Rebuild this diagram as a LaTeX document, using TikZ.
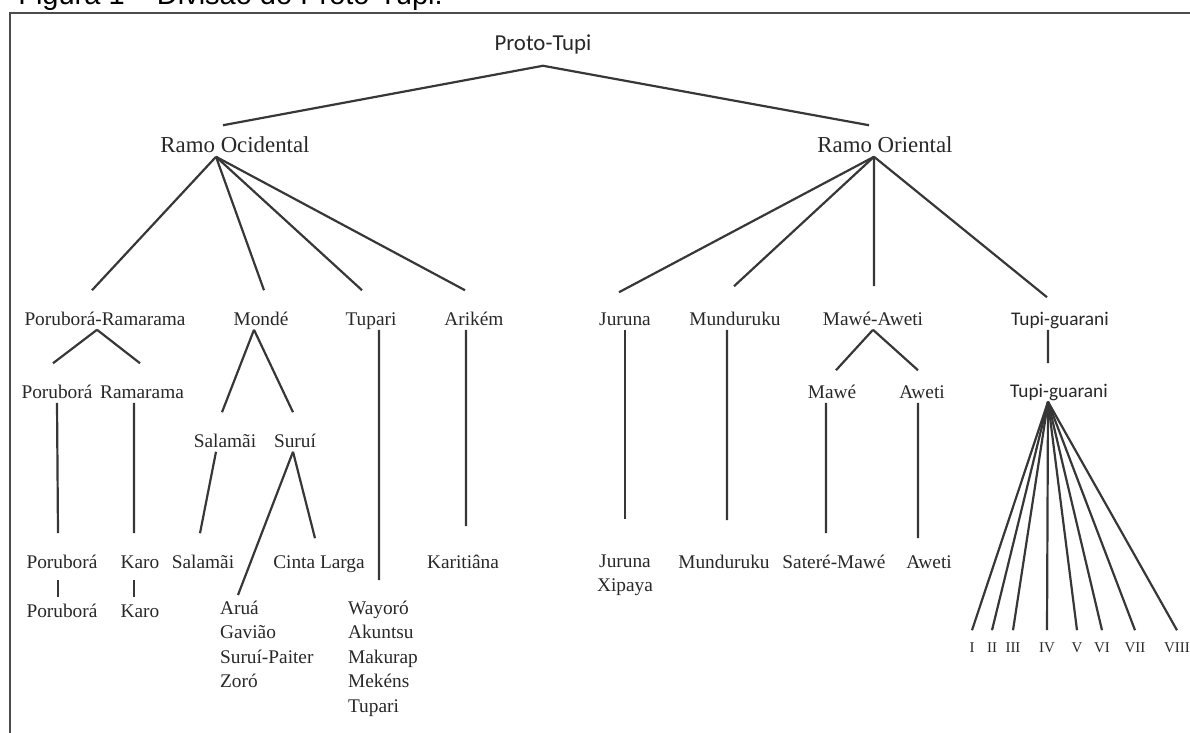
\documentclass[tikz,border=0pt]{standalone}
\usepackage{fontspec}
\setmainfont{Liberation Serif}
\newfontfamily\calfont{Carlito}
\newfontfamily\capfont{Liberation Sans}
\usetikzlibrary{positioning}
\definecolor{ink}{RGB}{40,40,40}
\definecolor{wire}{RGB}{55,55,55}

\begin{document}
\begin{tikzpicture}[x=0.02cm,y=-0.02cm,
    lang/.style={font=\fontsize{11}{13.9}\selectfont,text=ink,inner sep=1pt,text height=1.6ex,text depth=.3ex},
    branch/.style={lang,font=\fontsize{13}{15}\selectfont},
    list/.style={font=\fontsize{11}{13.9}\selectfont,text=ink,inner sep=1pt,align=left},
    num/.style={lang,font=\fontsize{8.5}{9}\selectfont},
    link/.style={draw=wire,line width=1.25pt}]
  \useasboundingbox (0,0) rectangle (1190,733);
  \draw[draw=black!70,line width=1.2pt] (10,745) -- (10,13) -- (1200,13);
  \node[anchor=base west,inner sep=0,font=\capfont\fontsize{16.5}{18}\selectfont] (cap) at (18,5) {Figura 1 – Divisão do Proto-Tupi.};

  \node[lang,font=\calfont\fontsize{13}{15}\selectfont] (proto) at (543,45) {Proto-Tupi};
  \node[branch] (ocid) at (235,147) {Ramo Ocidental};
  \node[branch] (orie) at (885,147) {Ramo Oriental};

  \foreach \n/\x/\t in {pr/105/Poruborá-Ramarama,monde/261/Mondé,tupari/371/Tupari,arikem/474/Arikém,
      juruna/625/Juruna,mundu/735/Munduruku,mawea/873/Mawé-Aweti}
    \node[lang] (\n) at (\x,320) {\t};
  \node[lang,font=\calfont\fontsize{11}{13.9}\selectfont] (tg) at (1060,320) {Tupi-guarani};

  \foreach \n/\x/\y/\t in {porub/57/393/Poruborá,ramar/142/393/Ramarama,mawe/832/393/Mawé,aweti/922/393/Aweti,
      salam/225/442/Salamãi,surui/295/442/Suruí}
    \node[lang] (\n) at (\x,\y) {\t};
  \node[lang,font=\calfont\fontsize{11}{13.9}\selectfont] (tgb) at (1059,392) {Tupi-guarani};

  \foreach \n/\x/\t in {porubc/62/Poruborá,karo/140/Karo,salamc/203/Salamãi,cinta/319/Cinta Larga,
      karit/463/Karitiâna,munduc/724/Munduruku,satere/834/Sateré-Mawé,awetic/929/Aweti}
    \node[lang] (\n) at (\x,563) {\t};
  \node[lang] (porubd) at (62,612) {Poruborá};
  \node[lang] (karod) at (140,612) {Karo};
  \node[list,align=center] (jurx) at (625,575) {Juruna\\Xipaya};
  \node[list,anchor=north west] (arua) at (218,599) {Aruá\\Gavião\\Suruí-Paiter\\Zoró};
  \node[list,anchor=north west] (wayoro) at (346,599) {Wayoró\\Akuntsu\\Makurap\\Mekéns\\Tupari};

  \draw[link] ([yshift=-2.2mm]proto.south) -- ([xshift=-2.4mm,yshift=2.4mm]ocid.north);
  \draw[link] ([yshift=-2.2mm]proto.south) -- ([xshift=-3.2mm,yshift=2.4mm]orie.north);
  \foreach \c/\dx in {pr/-2.6mm,monde/0.6mm,tupari/-1.8mm,arikem/-1.8mm}
    \draw[link] ([xshift=-3.8mm]ocid.south) -- ([xshift=\dx,yshift=4mm]\c.north);
  \foreach \c/\dx/\dy in {juruna/-1.2mm/3.6mm,mundu/-0.2mm/4.8mm,mawea/0.2mm/4.8mm,tg/-2.6mm/2.6mm}
    \draw[link] ([xshift=-2.2mm]orie.south) -- ([xshift=\dx,yshift=\dy]\c.north);

  \draw[link] ([xshift=-1.6mm]pr.south) -- ([xshift=-0.8mm,yshift=4mm]porub.north);
  \draw[link] ([xshift=-1.6mm]pr.south) -- ([xshift=-0.4mm,yshift=4mm]ramar.north);
  \draw[link] ([xshift=-1.4mm]monde.south) -- ([xshift=-0.6mm,yshift=4mm]salam.north);
  \draw[link] ([xshift=-1.4mm]monde.south) -- ([xshift=-0.4mm,yshift=4mm]surui.north);
  \draw[link] (mawea.south) -- ([xshift=0.8mm,yshift=2.6mm]mawe.north);
  \draw[link] (mawea.south) -- ([xshift=-0.8mm,yshift=2.6mm]aweti.north);
  \draw[link] ([xshift=-2.4mm]tg.south) -- ([xshift=-2.2mm,yshift=3.8mm]tgb.north);

  \draw[link] (porub.south) -- ([xshift=-0.8mm,yshift=4mm]porubc.north);
  \draw[link] ([xshift=-1.6mm]ramar.south) -- ([xshift=-1.2mm,yshift=4mm]karo.north);
  \draw[link] ([xshift=-1.8mm]salam.south) -- ([xshift=-0.6mm,yshift=4mm]salamc.north);
  \draw[link] ([xshift=-0.4mm]surui.south) -- ([xshift=-0.8mm,yshift=3mm]cinta.north);
  \draw[link] ([xshift=-0.4mm]surui.south) -- ([xshift=4mm,yshift=.8mm]arua.north west);
  \draw[link] ([xshift=1.6mm]tupari.south) -- ([xshift=6.6mm,yshift=3.8mm]wayoro.north west);
  \draw[link] ([xshift=-1.6mm]arikem.south) -- ([xshift=0.6mm,yshift=5.4mm]karit.north);
  \draw[link] (juruna.south) -- ([yshift=6.6mm]jurx.north);
  \draw[link] ([xshift=-1.6mm]mundu.south) -- ([xshift=0.6mm,yshift=6.6mm]munduc.north);
  \draw[link] ([xshift=-1.2mm]mawe.south) -- ([xshift=-1.6mm,yshift=4mm]satere.north);
  \draw[link] ([xshift=-0.8mm]aweti.south) -- ([xshift=-2.2mm,yshift=3mm]awetic.north);
  \draw[link] ([xshift=-0.8mm,yshift=-1.4mm]porubc.south) -- ([xshift=-0.8mm,yshift=1mm]porubd.north);
  \draw[link] ([xshift=-1.2mm,yshift=-1.4mm]karo.south) -- ([xshift=-1.2mm,yshift=1mm]karod.north);

  \foreach \r/\x [count=\i] in {I/972,II/992,III/1013,IV/1047,V/1077,VI/1102,VII/1135,VIII/1177}
  {
    \node[num] (r\i) at (\x,647) {\r};
    \draw[link] ([xshift=-2.2mm]tgb.south) -- ([yshift=1.4mm]r\i.north);
  }
\end{tikzpicture}
\end{document}
